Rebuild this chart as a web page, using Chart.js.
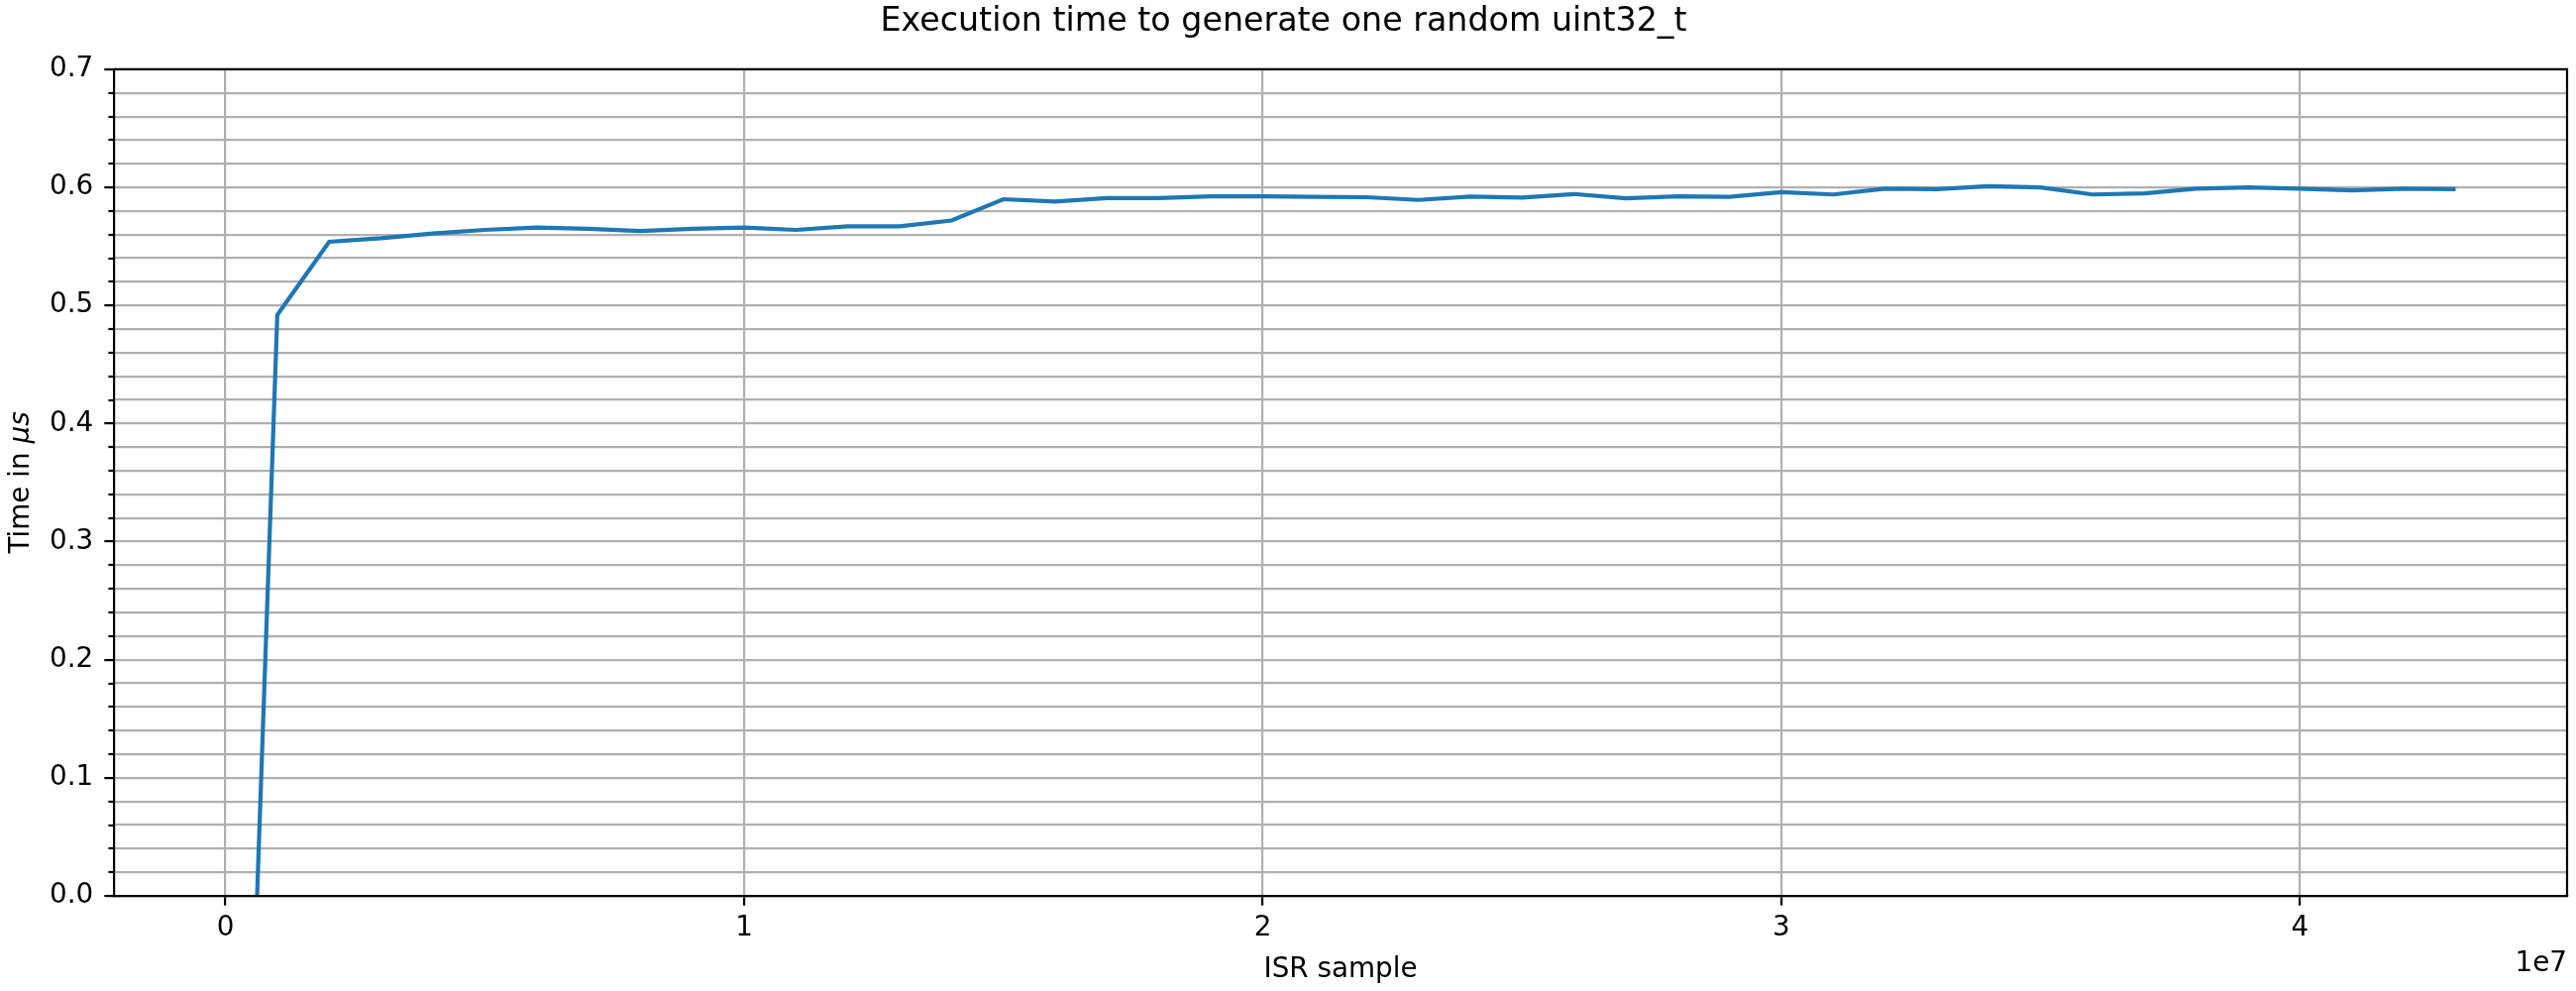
<!DOCTYPE html>
<html lang="en">
<head>
<meta charset="UTF-8">
<title>Execution time to generate one random uint32_t</title>
<script src="https://cdn.jsdelivr.net/npm/chart.js"></script>
<style>
    body { margin: 0; background: #fff; }
    #chart { display: block; }
</style>
</head>
<body>
<canvas id="chart" width="2600" height="1000"></canvas>
<script>
// ISR sample, in millions
const sampleMillions = [0, 1, 2, 3, 4, 5, 6, 7, 8, 9, 10, 11, 12, 13, 14, 15, 16, 17, 18, 19, 20, 21,
    22, 23, 24, 25, 26, 27, 28, 29, 30, 31, 32, 33, 34, 35, 36, 37, 38, 39, 40, 41, 42, 43];
// time in microseconds (the first one is below the axis, gets clipped)
const timeMicros = [-0.77, 0.492, 0.554, 0.557, 0.561, 0.564, 0.566, 0.565, 0.563, 0.565, 0.566, 0.564,
    0.567, 0.567, 0.572, 0.590, 0.588, 0.591, 0.591, 0.5925, 0.5925, 0.592, 0.5917, 0.5894, 0.5922,
    0.5914, 0.5944, 0.5908, 0.5925, 0.592, 0.596, 0.594, 0.599, 0.5985, 0.601, 0.600, 0.594, 0.595,
    0.599, 0.600, 0.599, 0.5975, 0.599, 0.5986];
const xTicks = [0, 1e7, 2e7, 3e7, 4e7];
const yMajorTicks = [0, 0.1, 0.2, 0.3, 0.4, 0.5, 0.6, 0.7];
const yMinorPerMajor = 5;

const FONT = '"DejaVu Sans", sans-serif';
const TXT = 27.8;
Chart.defaults.font.family = FONT;
Chart.defaults.color = '#000';

const points = sampleMillions.map((m, i) => ({ x: m * 1e6, y: timeMicros[i] }));
const xFirst = points[0].x, xLast = points[points.length - 1].x;
const xPad = (xLast - xFirst) * 0.05;

// all y grid positions, majors plus minors in between
const yAllTicks = [];
yMajorTicks.forEach((v, i) => {
    if (i === 0) { yAllTicks.push({ value: v, major: true }); return; }
    const prev = yMajorTicks[i - 1];
    for (let k = 1; k < yMinorPerMajor; k++) {
        yAllTicks.push({ value: prev + (v - prev) * k / yMinorPerMajor, major: false });
    }
    yAllTicks.push({ value: v, major: true });
});

const extras = {
    id: 'extras',
    afterDraw(chart) {
        const { ctx, chartArea: a, scales: { y } } = chart;
        ctx.save();
        ctx.strokeStyle = '#000';
        ctx.lineWidth = 2.2;
        // minor ticks on y
        yAllTicks.forEach(t => {
            if (t.major) return;
            const py = Math.round(y.getPixelForValue(t.value));
            ctx.beginPath();
            ctx.moveTo(a.left - 5.6, py);
            ctx.lineTo(a.left, py);
            ctx.stroke();
        });
        // top and right spines
        ctx.beginPath();
        ctx.moveTo(a.left, a.top);
        ctx.lineTo(a.right, a.top);
        ctx.lineTo(a.right, a.bottom);
        ctx.stroke();
        // offset text for x
        ctx.fillStyle = '#000';
        ctx.font = TXT + 'px ' + FONT;
        ctx.textAlign = 'right';
        ctx.textBaseline = 'middle';
        ctx.fillText('1e7', a.right, 973);
        // y title with italic unit
        ctx.translate(22, (a.top + a.bottom) / 2);
        ctx.rotate(-Math.PI / 2);
        const plain = 'Time in ', unit = 'μs';
        ctx.font = TXT + 'px ' + FONT;
        const w1 = ctx.measureText(plain).width;
        ctx.font = 'italic ' + TXT + 'px ' + FONT;
        const w2 = ctx.measureText(unit).width;
        const x0 = -(w1 + w2) / 2;
        ctx.textAlign = 'left';
        ctx.font = TXT + 'px ' + FONT;
        ctx.fillText(plain, x0, 0);
        ctx.font = 'italic ' + TXT + 'px ' + FONT;
        ctx.fillText(unit, x0 + w1, 0);
        ctx.restore();
    }
};

new Chart(document.getElementById('chart'), {
    type: 'line',
    data: {
        datasets: [{
            data: points,
            borderColor: '#1f77b4',
            borderWidth: 4.2,
            pointRadius: 0,
            tension: 0,
            fill: false
        }]
    },
    options: {
        responsive: false,
        animation: false,
        layout: { padding: { left: 0, right: 9, top: 0, bottom: 0 } },
        plugins: {
            legend: { display: false },
            tooltip: { enabled: false },
            title: {
                display: true,
                text: 'Execution time to generate one random uint32_t',
                font: { size: 33.3, weight: 'normal' },
                color: '#000',
                padding: { top: 2, bottom: 28 }
            }
        },
        scales: {
            x: {
                type: 'linear',
                min: xFirst - xPad,
                max: xLast + xPad,
                afterBuildTicks: s => { s.ticks = xTicks.map(v => ({ value: v })); },
                afterFit: s => { s.height = 96; },
                ticks: {
                    font: { size: TXT },
                    padding: 6,
                    maxRotation: 0,
                    callback: v => String(v / 1e7)
                },
                grid: { color: '#b0b0b0', lineWidth: 2.2, tickLength: 9.7, tickColor: '#000', tickWidth: 2.2 },
                border: { color: '#000', width: 2.2, z: 1 },
                title: { display: true, text: 'ISR sample', font: { size: TXT }, padding: { top: 0, bottom: 5 } }
            },
            y: {
                min: 0,
                max: 0.7,
                afterBuildTicks: s => { s.ticks = yAllTicks.map(t => ({ value: t.value })); },
                afterFit: s => { s.width = 115; },
                ticks: {
                    font: { size: TXT },
                    padding: 11,
                    autoSkip: false,
                    callback: (v, i) => yAllTicks[i].major ? v.toFixed(1) : ''
                },
                grid: {
                    color: '#b0b0b0',
                    lineWidth: 2.2,
                    tickLength: 9.7,
                    tickWidth: 2.2,
                    tickColor: c => (c.index % yMinorPerMajor === 0) ? '#000' : 'rgba(0,0,0,0)'
                },
                border: { color: '#000', width: 2.2, z: 1 }
            }
        }
    },
    plugins: [extras]
});
</script>
</body>
</html>
